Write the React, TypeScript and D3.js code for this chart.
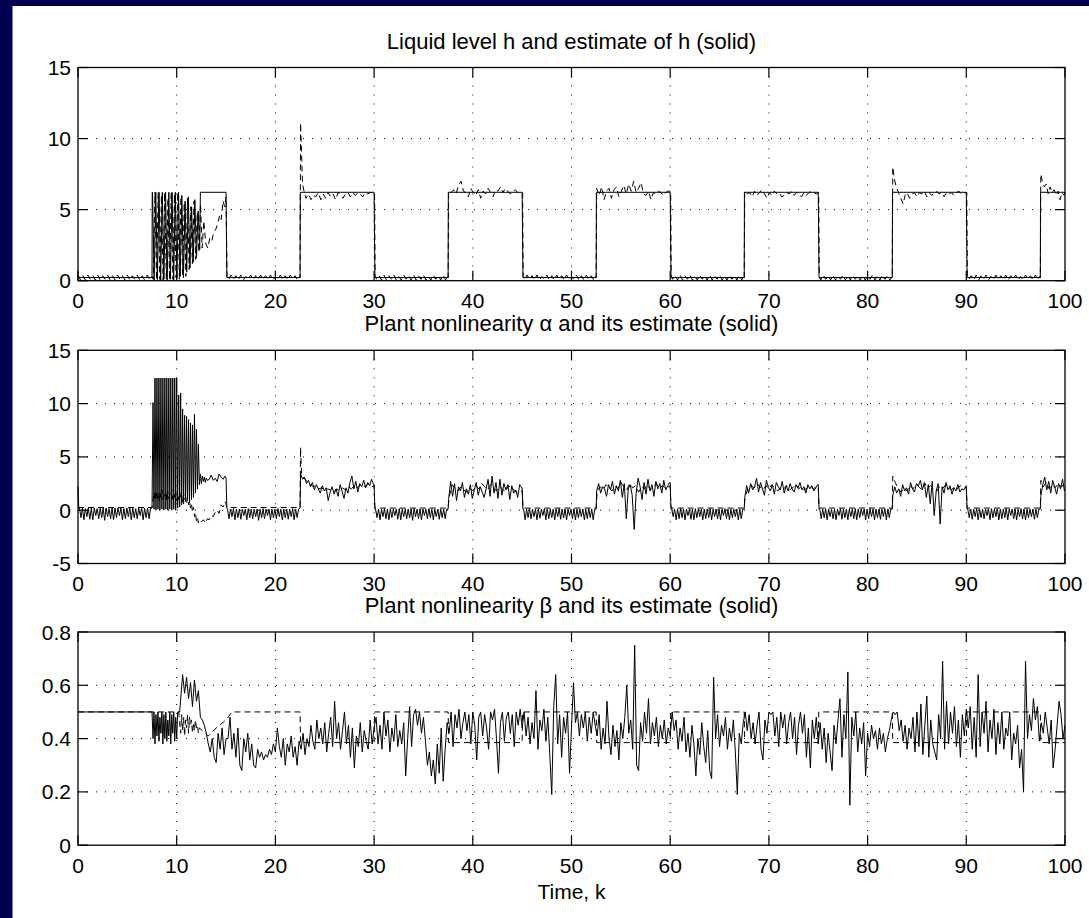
import React from 'react';
import * as d3 from 'd3';

type Pt = [number, number];
// attach sample times to values
function seq(t0: number, dt: number, v: number[]): Pt[] {
  return v.map((y, i) => [Math.round((t0 + i * dt) * 1000) / 1000, y] as Pt);
}

// ---------- axes / text ----------
const xTicks = [0, 10, 20, 30, 40, 50, 60, 70, 80, 90, 100];
const hTicks = [0, 5, 10, 15];
const alphaTicks = [-5, 0, 5, 10, 15];
const betaTicks = [0, 0.2, 0.4, 0.6, 0.8];
const betaTickLabels = ['0', '0.2', '0.4', '0.6', '0.8'];
const titles = [
  'Liquid level h and estimate of h (solid)',
  'Plant nonlinearity \u03b1 and its estimate (solid)',
  'Plant nonlinearity \u03b2 and its estimate (solid)',
];
const xLabel = 'Time, k';

// ---------- panel 1: liquid level h ----------
const hSolidZig = [6.22,0.05,6.22,0.08,6.22,0.05,6.22,0.1,6.22,0.05,6.22,0.1,6.22,0.05,6.22,0.15,6.22,0.3,6.0,0.2,5.6,0.6,5.9,0.9,5.2,1.3,5.7,1.6,4.9,2.2];
const hSolid: Pt[] = [
  [0, 0.22], [7.5, 0.22], [7.52, 6.22],
  ...seq(7.55, 0.165, hSolidZig),
  [12.4, 6.22], [15, 6.22], [15.08, 0.22], [22.5, 0.22], [22.52, 6.22], [30, 6.22], [30.08, 0.22],
  [37.5, 0.22], [37.52, 6.22], [45, 6.22], [45.08, 0.22], [52.5, 0.22], [52.52, 6.22], [60, 6.22], [60.08, 0.22],
  [67.5, 0.22], [67.52, 6.22], [75, 6.22], [75.08, 0.22], [82.5, 0.22], [82.52, 6.22], [90, 6.22], [90.08, 0.22],
  [97.5, 0.22], [97.52, 6.22], [100, 6.22],
];

const hLow1 = [0.4,0.05,0.35,0.05,0.4,0.1,0.35,0.05,0.4,0.05,0.35,0.1,0.4,0.05,0.35,0.05,0.4,0.1,0.35,0.05,0.4,0.05,0.35,0.1,0.4,0.05,0.35,0.05,0.4,0.1,0.3];
const hLowA = [0.05,0.4,0.1,0.35,0.05,0.4,0.05,0.3,0.1,0.4,0.05,0.35,0.05,0.4,0.1,0.35,0.05,0.4,0.05,0.3,0.1,0.4,0.05,0.35,0.05,0.4,0.1,0.35,0.05,0.3];
const hLowB = [0.1,0.35,0.05,0.4,0.05,0.35,0.1,0.4,0.05,0.3,0.05,0.4,0.1,0.35,0.05,0.4,0.05,0.35,0.1,0.4,0.05,0.3,0.05,0.4,0.1,0.35,0.05,0.4,0.05,0.35];
const hZig = [0.1,6.22,0.05,6.22,0.1,6.0,0.05,6.22,0.1,5.8,0.05,6.22,0.1,6.1,0.2,6.22,0.1,5.9,0.4,5.5,0.3,5.8,0.8,5.2,1.2,5.6,1.5,4.8,2.0,5.4,2.3,4.2];
const hRecover: Pt[] = [[12.95,2.6],[13.15,2.3],[13.35,3.0],[13.55,2.8],[13.75,3.4],[13.95,3.6],[14.15,4.0],[14.35,4.6],[14.5,4.3],[14.7,5.6],[14.85,5.2],[15.0,5.9],[15.1,0.3]];
const hHigh2 = [5.8,6.1,5.7,6.0,5.9,6.2,5.7,6.1,5.8,6.2,5.9,6.1,5.7,6.2,6.0,5.8,6.1,6.2,5.9,6.2,6.0,6.2,6.1,5.9,6.2,6.1,6.2];
const hHigh3 = [6.2,6.4,6.1,6.7,7.0,6.3,6.2,5.9,6.5,6.2,6.0,6.4,5.8,6.3,6.1,6.5,6.2,5.9,6.4,6.3,6.6,6.2,6.5,6.3,6.1,6.2,6.4,6.2];
const hHigh4 = [6.0,6.6,5.7,6.3,6.5,5.8,6.4,6.6,5.9,6.3,6.7,6.1,6.8,6.3,7.0,6.2,6.5,6.9,6.1,6.0,6.3,5.7,6.2,6.1,6.3,6.2,6.0,6.2,6.3];
const hHigh5 = [6.1,6.2,5.9,6.3,6.0,6.2,6.4,6.1,5.8,6.2,6.0,6.3,6.1,6.2,5.9,6.0,6.2,6.1,6.3,6.0,6.2,6.1,5.9,6.2,6.0,6.2,6.3,6.2,6.1];
const hHigh6 = [6.2,5.8,6.1,6.2,5.9,6.2,6.1,6.3,5.9,6.2,6.0,6.2,6.3,6.1,6.2,5.9,6.2,6.1,6.2,6.0,6.2,6.3,6.1,6.2];
const hHigh7: Pt[] = [[97.5,0.22],[97.55,7.5],[97.7,7.0],[97.9,6.6],[98.1,6.8],[98.3,6.1],[98.5,6.6],[98.7,6.2],[98.9,6.4],[99.1,6.0],[99.3,6.3],[99.5,5.7],[99.7,6.2],[99.9,6.0],[100,6.2]];

const hDashed: Pt[] = [
  ...seq(0, 0.25, hLow1),
  ...seq(7.63, 0.165, hZig),
  ...hRecover,
  ...seq(15.25, 0.25, hLowA),
  [22.5, 0.22], [22.55, 11.1], [22.65, 9.0], [22.75, 6.8], [22.9, 6.3],
  ...seq(23.1, 0.25, hHigh2), [29.85, 6.2], [30.05, 6.2], [30.1, 0.3],
  ...seq(30.25, 0.25, hLowB),
  [37.5, 0.22], [37.55, 6.3],
  ...seq(37.8, 0.25, hHigh3), [44.8, 6.2], [45.05, 6.2], [45.1, 0.3],
  ...seq(45.25, 0.25, hLowA),
  [52.5, 0.22], [52.55, 6.5],
  ...seq(52.8, 0.25, hHigh4), [60.05, 6.3], [60.1, 0.3],
  ...seq(60.25, 0.25, hLowB),
  [67.5, 0.22], [67.55, 6.3],
  ...seq(67.8, 0.25, hHigh5), [75.05, 6.2], [75.1, 0.3],
  ...seq(75.25, 0.25, hLowA),
  [82.5, 0.22], [82.55, 8.0], [82.7, 7.2], [82.9, 6.6], [83.3, 5.9], [83.6, 5.4], [83.8, 6.0],
  ...seq(84.0, 0.25, hHigh6), [90.05, 6.2], [90.1, 0.3],
  ...seq(90.25, 0.25, hLowB),
  ...hHigh7,
];

// ---------- panel 2: alpha ----------
const comb1 = [0.2,-0.7,0.2,-0.9,0.15,-0.6,0.2,-0.85,0.2,-0.9,0.2,-0.5,0.15,-0.8,0.2,-0.7,0.2,-0.95,0.2,-0.6,0.15,-0.8,0.2,-0.9,0.2,-0.7,0.2,-0.5,0.2,-0.9,0.15,-0.8,0.2,-0.6,0.2,-0.9,0.2,-0.7,0.15,-0.8,0.2,-0.5,0.2,-0.9,0.2,-0.7,0.2,-0.8,0.2];
const comb2 = [0.1,-0.8,0.1,-0.6,0.15,-0.9,0.1,-0.7,0.1,-0.85,0.1,-0.5,0.1,-0.9,0.15,-0.7,0.1,-0.8,0.1,-0.6,0.1,-0.95,0.1,-0.7,0.15,-0.8,0.1,-0.5,0.1,-0.9,0.1,-0.7,0.1,-0.8,0.15,-0.6,0.1,-0.9,0.1,-0.7,0.1,-0.85,0.1,-0.6,0.15,-0.9,0.1,-0.7,0.1];
const comb3 = [0.1,-0.7,0.1,-0.9,0.1,-0.6,0.15,-0.8,0.1,-0.9,0.1,-0.7,0.1,-0.5,0.1,-0.85,0.15,-0.9,0.1,-0.6,0.1,-0.8,0.1,-0.7,0.1,-0.95,0.15,-0.6,0.1,-0.8,0.1,-0.9,0.1,-0.5,0.1,-0.8,0.15,-0.7,0.1,-0.9,0.1,-0.6,0.1,-0.85,0.1,-0.7,0.1,-0.8,0.1];
const comb4 = [0.1,-0.9,0.1,-0.7,0.15,-0.8,0.1,-0.6,0.1,-0.9,0.1,-0.75,0.1,-0.5,0.15,-0.9,0.1,-0.8,0.1,-0.7,0.1,-0.9,0.1,-0.6,0.15,-0.85,0.1,-0.7,0.1,-0.9,0.1,-0.5,0.1,-0.8,0.15,-0.9,0.1,-0.7,0.1,-0.6,0.1,-0.9,0.1,-0.8,0.15,-0.7,0.1,-0.9,0.1];
const comb5 = [0.1,-0.6,0.1,-0.9,0.1,-0.8,0.15,-0.7,0.1,-0.9,0.1,-0.5,0.1,-0.85,0.1,-0.9,0.15,-0.7,0.1,-0.6,0.1,-0.9,0.1,-0.8,0.1,-0.7,0.15,-0.9,0.1,-0.6,0.1,-0.8,0.1,-0.9,0.1,-0.5,0.15,-0.8,0.1,-0.9,0.1,-0.7,0.1,-0.6,0.1,-0.9,0.1,-0.8,0.1];
const comb6 = [0.1,-0.8,0.1,-0.7,0.15,-0.9,0.1,-0.6,0.1,-0.8,0.1,-0.9,0.1,-0.5,0.15,-0.85,0.1,-0.7,0.1,-0.9,0.1,-0.6,0.1,-0.8,0.15,-0.9,0.1,-0.7,0.1,-0.5,0.1,-0.9,0.1,-0.8,0.15,-0.6,0.1,-0.9,0.1,-0.7,0.1,-0.85,0.1,-0.6,0.15,-0.9,0.1,-0.7,0.1];
const comb7 = [0.1,-0.7,0.1,-0.85,0.1,-0.6,0.15,-0.9,0.1,-0.7,0.1,-0.8,0.1,-0.5,0.1,-0.9,0.15,-0.7,0.1,-0.6,0.1,-0.9,0.1,-0.8,0.1,-0.7,0.15,-0.9,0.1,-0.5,0.1,-0.8,0.1,-0.9,0.1,-0.6,0.15,-0.8,0.1,-0.9,0.1,-0.7,0.1,-0.6,0.1,-0.85,0.1,-0.7,0.1];
const alphaBurst = [10.1,0.1,12.4,0.0,12.4,0.1,12.4,0.0,12.4,0.1,12.4,0.0,12.4,0.1,12.4,0.0,12.4,0.1,12.4,0.0,12.4,0.1,12.4,0.0,12.4,0.2,10.8,0.3,11.0,0.5,9.5,0.6,8.9,0.8,8.8,0.9,8.5,0.7,8.2,1.0,8.0,1.2,9.0,1.6,7.6,2.0,6.2,2.4];
const alphaSettle1 = [3.4,2.5,3.2,2.7,3.1,2.6,3.0,2.8];
const alphaSettle2 = [2.9,3.3,2.8,3.0,2.7,3.4,3.1,2.9,3.2];
const aHigh2 = [3.4,2.9,3.1,2.5,2.8,2.2,2.6,1.9,2.4,2.0,1.6,2.3,1.8,2.1,0.9,1.7,2.2,1.5,2.0,1.3,2.4,1.8,1.1,2.1,1.6,2.6,3.2,2.0,2.7,1.7,2.5,2.2,2.8,2.1,2.6,2.3,2.9,2.4];
const aHigh3 = [1.0,2.7,1.3,2.5,0.9,2.2,1.8,2.6,1.2,2.0,1.5,2.4,1.1,1.9,2.6,1.4,2.2,1.7,1.2,2.0,2.9,1.3,3.2,1.6,2.6,1.1,2.9,1.4,2.5,1.9,2.4,1.0,2.3,1.6,1.9,1.2,2.4,2.1];
const aHigh4 = [1.8,2.5,1.6,2.2,2.0,1.3,2.4,1.9,2.7,1.5,2.3,1.8,2.8,1.2,2.5,-0.8,2.0,2.4,1.4,-1.8,1.6,3.0,2.2,1.0,2.6,1.5,2.9,1.8,2.4,1.3,2.7,2.0,2.5,1.6,2.8,1.9,2.3,2.6];
const aHigh5 = [1.2,2.3,1.6,2.5,1.9,2.2,3.0,1.7,2.6,2.0,1.4,2.8,2.1,1.8,2.4,1.5,2.6,2.2,1.9,2.7,1.6,2.3,1.8,2.5,2.0,1.7,2.4,2.1,2.6,1.9,2.2,1.6,2.4,2.0,2.3,1.8,2.1,2.4];
const aHigh6 = [1.4,2.2,1.6,2.0,1.3,2.4,1.8,2.1,1.5,2.6,2.0,1.7,2.5,2.3,2.8,1.9,2.6,1.2,2.4,0.6,2.7,-0.5,1.8,2.5,-1.3,2.2,1.6,2.6,1.9,2.3,1.5,2.1,1.8,2.4,1.7,2.0,1.9,2.2];
const aHigh7 = [1.3,2.4,3.1,1.9,2.7,1.6,2.8,2.2,1.5,2.5,2.0,2.9,1.8];

const alphaSolid: Pt[] = [
  [0, 2.2], [0.08, 0.2], ...seq(0.15, 0.15, comb1), [7.5, 0.2],
  ...seq(7.6, 0.1, alphaBurst),
  ...seq(12.4, 0.1, alphaSettle1),
  ...seq(13.3, 0.2, alphaSettle2), [15.0, 3.0], [15.08, 0.2],
  ...seq(15.15, 0.15, comb2), [22.5, 0.2],
  ...seq(22.55, 0.2, aHigh2), [30.0, 2.4], [30.08, 0.1],
  ...seq(30.15, 0.15, comb3), [37.5, 0.1],
  ...seq(37.55, 0.2, aHigh3), [45.0, 2.1], [45.08, 0.1],
  ...seq(45.15, 0.15, comb4), [52.5, 0.1],
  ...seq(52.55, 0.2, aHigh4), [60.0, 2.6], [60.08, 0.1],
  ...seq(60.15, 0.15, comb5), [67.5, 0.1],
  ...seq(67.55, 0.2, aHigh5), [75.0, 2.4], [75.08, 0.1],
  ...seq(75.15, 0.15, comb6), [82.5, 0.1],
  ...seq(82.55, 0.2, aHigh6), [90.0, 2.2], [90.08, 0.1],
  ...seq(90.15, 0.15, comb7), [97.5, 0.1],
  ...seq(97.55, 0.2, aHigh7),
];

const alphaBand = [1.0,1.7,0.9,1.8,1.1,1.6,0.8,1.7,1.2,1.9,1.0,1.6,1.3,1.8,0.9,1.7,1.1,1.5,1.3,1.9,1.0,1.6,1.2,1.8,0.9,1.5,1.0,1.7,1.2,1.4,0.8,1.6,1.0,1.3,0.7,1.2,0.5,0.9,0.2,0.6,-0.2,0.3,-0.6,-0.2,-1.0,-0.7,-1.2,-0.9];
const alphaRecover: Pt[] = [[12.5,-1.1],[12.7,-0.9],[12.9,-1.2],[13.1,-0.8],[13.3,-0.9],[13.5,-0.5],[13.7,-0.6],[13.9,-0.2],[14.1,0.0],[14.3,-0.3],[14.5,0.5],[14.7,0.3],[14.9,0.8],[15.0,0.6],[15.08,0.25]];
const aDash2 = [3.0,2.7,2.5,2.2,2.3,2.0,2.1,1.8,2.0,1.9,1.7,2.0,1.8,2.1,1.9,2.2,2.0,2.3,2.1,2.4,2.2,2.3,2.5,2.2];
const aDash3 = [1.2,2.4,2.0,1.8,2.2,1.9,1.7,2.1,1.8,2.3,2.0,2.5,2.2,1.9,2.4,2.1,1.8,2.2,2.0,1.7,2.3,2.1,1.9,1.6,1.8];
const aDash4 = [1.8,2.2,1.9,2.4,2.1,1.8,2.3,2.0,2.6,2.2,1.9,2.5,2.1,2.3,1.7,2.2,2.0,2.4,1.9,2.2,2.5,2.0,2.3,2.1,2.2];
const aDash5 = [1.4,2.0,2.3,2.1,2.5,2.2,1.9,2.3,2.0,2.4,2.1,1.8,2.2,2.0,2.3,1.9,2.1,2.4,2.0,2.2,1.9,2.1,2.3,2.0,2.2];
const aDash6 = [2.6,2.0,1.7,2.1,1.8,2.3,2.0,2.4,2.2,1.9,2.5,2.1,2.3,2.0,1.8,2.2,2.0,2.4,2.1,1.9,2.2,2.0,2.3,2.1];
const aDash7 = [2.2,2.6,2.0,2.4,2.1,2.5,2.2,2.4];

const alphaDashed: Pt[] = [
  [0, 0.25], [7.5, 0.25],
  ...seq(7.6, 0.1, alphaBand),
  ...alphaRecover, [22.5, 0.25], [22.55, 5.9], [22.65, 3.3],
  ...seq(22.9, 0.3, aDash2), [30.0, 2.3], [30.08, 0.2], [37.5, 0.2],
  ...seq(37.6, 0.3, aDash3), [45.0, 1.8], [45.08, 0.2], [52.5, 0.2],
  ...seq(52.6, 0.3, aDash4), [60.0, 2.2], [60.08, 0.2], [67.5, 0.2],
  ...seq(67.6, 0.3, aDash5), [75.0, 2.2], [75.08, 0.2], [82.5, 0.2], [82.55, 3.2],
  ...seq(82.8, 0.3, aDash6), [90.0, 2.2], [90.08, 0.2], [97.5, 0.2], [97.55, 2.8],
  ...seq(97.8, 0.3, aDash7),
];

// ---------- panel 3: beta ----------
const betaZig = [0.40,0.50,0.38,0.49,0.41,0.50,0.39,0.48,0.42,0.50,0.38,0.49,0.40,0.50,0.39,0.47,0.41,0.50,0.38,0.49,0.42,0.50,0.39,0.48,0.40,0.50];
const betaRise: Pt[] = [[10.3,0.5],[10.6,0.64],[10.8,0.57],[11.0,0.63],[11.2,0.55],[11.4,0.61],[11.6,0.52],[11.8,0.62],[12.0,0.54],[12.2,0.58],[12.4,0.48]];
const b1 = [0.47,0.45,0.42,0.38,0.35,0.40,0.33,0.31,0.42,0.36,0.44,0.34,0.40];
const b2 = [0.40,0.48,0.36,0.42,0.33,0.44,0.30,0.28,0.40,0.35,0.42,0.32,0.38,0.30,0.29,0.36,0.33,0.35,0.32,0.34,0.33,0.36,0.34,0.38,0.35,0.44,0.37,0.33,0.40,0.30,0.38,0.35,0.41,0.33,0.37,0.30,0.39];
const b3 = [0.36,0.42,0.34,0.40,0.37,0.45,0.39,0.36,0.47,0.40,0.44,0.38,0.46,0.35,0.42,0.48,0.37,0.54,0.40,0.46,0.36,0.43,0.50,0.38,0.45,0.33,0.44,0.29,0.41,0.37,0.46,0.35,0.43,0.39,0.36,0.47,0.38,0.44];
const b4 = [0.48,0.38,0.45,0.36,0.50,0.41,0.47,0.35,0.44,0.39,0.49,0.37,0.43,0.38,0.46,0.26,0.40,0.52,0.37,0.49,0.51,0.45,0.50,0.42,0.48,0.39,0.30,0.35,0.26,0.32,0.23,0.38,0.27,0.44,0.24,0.36,0.46];
const b5 = [0.42,0.50,0.37,0.49,0.44,0.51,0.40,0.46,0.50,0.43,0.49,0.38,0.50,0.45,0.32,0.48,0.50,0.41,0.49,0.44,0.36,0.50,0.47,0.51,0.40,0.27,0.46,0.50,0.39,0.48,0.50,0.42,0.49,0.37,0.50,0.45,0.51,0.44];
const b6 = [0.50,0.41,0.48,0.38,0.46,0.40,0.58,0.36,0.47,0.43,0.51,0.39,0.48,0.34,0.19,0.52,0.64,0.38,0.49,0.33,0.48,0.42,0.50,0.27,0.44,0.61,0.46,0.50,0.41,0.49,0.44,0.50,0.39,0.48,0.42,0.50,0.45];
const b7 = [0.41,0.49,0.36,0.44,0.38,0.54,0.40,0.34,0.45,0.37,0.43,0.32,0.46,0.40,0.48,0.60,0.42,0.47,0.36,0.75,0.30,0.28,0.46,0.39,0.50,0.42,0.55,0.38,0.46,0.41,0.48,0.37,0.45,0.40,0.47,0.38,0.44,0.41];
const b8 = [0.50,0.43,0.47,0.36,0.44,0.39,0.48,0.35,0.42,0.33,0.45,0.38,0.26,0.40,0.34,0.46,0.37,0.31,0.43,0.28,0.25,0.63,0.40,0.49,0.37,0.45,0.41,0.48,0.36,0.44,0.39,0.47,0.35,0.19,0.42,0.38,0.46];
const b9 = [0.50,0.43,0.49,0.40,0.46,0.38,0.45,0.50,0.36,0.32,0.47,0.42,0.50,0.49,0.50,0.41,0.48,0.37,0.50,0.44,0.49,0.38,0.46,0.50,0.40,0.48,0.34,0.45,0.50,0.42,0.49,0.33,0.44,0.29,0.47,0.40,0.48,0.38];
const b10 = [0.46,0.36,0.44,0.31,0.42,0.35,0.28,0.45,0.38,0.47,0.55,0.33,0.49,0.40,0.65,0.15,0.48,0.41,0.50,0.35,0.44,0.38,0.46,0.26,0.42,0.37,0.45,0.40,0.43,0.36,0.44,0.38,0.42,0.35,0.40,0.43,0.47];
const b11 = [0.50,0.49,0.50,0.43,0.47,0.39,0.45,0.36,0.44,0.40,0.48,0.35,0.50,0.37,0.53,0.34,0.45,0.56,0.33,0.47,0.38,0.35,0.32,0.49,0.40,0.69,0.36,0.54,0.38,0.50,0.42,0.52,0.37,0.47,0.33,0.49,0.41,0.51];
const b12 = [0.44,0.52,0.36,0.48,0.33,0.64,0.37,0.50,0.42,0.54,0.35,0.47,0.40,0.51,0.34,0.46,0.38,0.50,0.36,0.44,0.41,0.50,0.32,0.42,0.38,0.45,0.29,0.36,0.20,0.69,0.40,0.49,0.43,0.55,0.47,0.52,0.39];
const b13 = [0.46,0.42,0.50,0.44,0.38,0.47,0.29,0.36,0.45,0.54,0.49,0.40,0.45];

const betaSolid: Pt[] = [
  [0, 0.5], [7.5, 0.5],
  ...seq(7.6, 0.1, betaZig),
  ...betaRise,
  ...seq(12.6, 0.2, b1),
  ...seq(15.2, 0.2, b2),
  ...seq(22.6, 0.2, b3),
  ...seq(30.2, 0.2, b4),
  ...seq(37.6, 0.2, b5),
  ...seq(45.2, 0.2, b6),
  ...seq(52.6, 0.2, b7),
  ...seq(60.2, 0.2, b8),
  ...seq(67.6, 0.2, b9),
  ...seq(75.2, 0.2, b10),
  ...seq(82.6, 0.2, b11),
  ...seq(90.2, 0.2, b12),
  ...seq(97.6, 0.2, b13),
];

const betaDashBand = [0.46,0.42,0.49,0.43,0.48,0.41,0.47,0.44,0.49,0.42,0.48,0.45,0.47,0.42,0.46,0.43,0.47,0.44,0.45,0.42,0.44];
const betaDashed: Pt[] = [
  [0, 0.5], [10.2, 0.5],
  ...seq(10.3, 0.1, betaDashBand),
  [12.6, 0.43], [13.2, 0.41], [14.0, 0.44], [15.0, 0.47], [15.6, 0.5],
  [22.5, 0.5], [22.55, 0.385], [30, 0.385], [30.05, 0.5], [37.5, 0.5], [37.55, 0.385], [45, 0.385], [45.05, 0.5],
  [52.5, 0.5], [52.55, 0.385], [60, 0.385], [60.05, 0.5], [67.5, 0.5], [67.55, 0.385], [75, 0.385], [75.05, 0.5],
  [82.5, 0.5], [82.55, 0.385], [90, 0.385], [90.05, 0.5], [97.5, 0.5], [97.55, 0.385], [100, 0.385],
];

// ---------- layout ----------
const W = 1089;
const HT = 918;
const L = 78;
const R = 1065;
const PH = 213.2;
const tops = [67.5, 350.3, 632];
const FONT = '"Liberation Sans", Arial, Helvetica, sans-serif';

interface PanelProps {
  top: number;
  domain: [number, number];
  ticks: number[];
  labels: string[];
  title: string;
  solid: Pt[];
  dashed: Pt[];
}

function Panel({ top, domain, ticks, labels, title, solid, dashed }: PanelProps) {
  const x = d3.scaleLinear().domain([0, 100]).range([L, R]);
  const y = d3.scaleLinear().domain(domain).range([top + PH, top]);
  const line = d3.line<Pt>().x((d) => x(d[0])).y((d) => y(d[1]));
  const bottom = top + PH;
  const TL = 10;
  return (
    <g>
      <text x={(L + R) / 2} y={top - 19} textAnchor="middle" fontSize={22}>{title}</text>
      {xTicks.slice(1, -1).map((t) => (
        <line key={'gx' + t} x1={x(t)} x2={x(t)} y1={top} y2={bottom} stroke="#000" strokeWidth={1} strokeDasharray="1,8" />
      ))}
      {ticks.slice(1, -1).map((t) => (
        <line key={'gy' + t} x1={L} x2={R} y1={y(t)} y2={y(t)} stroke="#000" strokeWidth={1} strokeDasharray="1,8" />
      ))}
      <path d={line(dashed) || ''} fill="none" stroke="#000" strokeWidth={1} strokeDasharray="6,4" />
      <path d={line(solid) || ''} fill="none" stroke="#000" strokeWidth={1} />
      <rect x={L} y={top} width={R - L} height={PH} fill="none" stroke="#000" strokeWidth={1.3} />
      {xTicks.map((t) => (
        <g key={'tx' + t}>
          <line x1={x(t)} x2={x(t)} y1={bottom} y2={bottom - TL} stroke="#000" strokeWidth={1.2} />
          <line x1={x(t)} x2={x(t)} y1={top} y2={top + TL} stroke="#000" strokeWidth={1.2} />
          <text x={x(t)} y={bottom + 27.5} textAnchor="middle" fontSize={21}>{t}</text>
        </g>
      ))}
      {ticks.map((t, i) => (
        <g key={'ty' + t}>
          <line x1={L} x2={L + TL} y1={y(t)} y2={y(t)} stroke="#000" strokeWidth={1.2} />
          <line x1={R - TL} x2={R} y1={y(t)} y2={y(t)} stroke="#000" strokeWidth={1.2} />
          <text x={L - 7} y={y(t) + 7.5} textAnchor="end" fontSize={21}>{labels[i]}</text>
        </g>
      ))}
    </g>
  );
}

export default function App() {
  return (
    <svg width={W} height={HT} style={{ position: 'absolute', left: 0, top: 0, background: '#fff' }} fontFamily={FONT}>
      <rect x={0} y={0} width={W} height={HT} fill="#fff" />
      <rect x={0} y={0} width={W} height={6} fill="#000050" />
      <rect x={0} y={0} width={12.5} height={HT} fill="#000050" />
      <Panel top={tops[0]} domain={[0, 15]} ticks={hTicks} labels={hTicks.map(String)} title={titles[0]} solid={hSolid} dashed={hDashed} />
      <Panel top={tops[1]} domain={[-5, 15]} ticks={alphaTicks} labels={alphaTicks.map(String)} title={titles[1]} solid={alphaSolid} dashed={alphaDashed} />
      <Panel top={tops[2]} domain={[0, 0.8]} ticks={betaTicks} labels={betaTickLabels} title={titles[2]} solid={betaSolid} dashed={betaDashed} />
      <text x={(L + R) / 2} y={899} textAnchor="middle" fontSize={21}>{xLabel}</text>
    </svg>
  );
}
